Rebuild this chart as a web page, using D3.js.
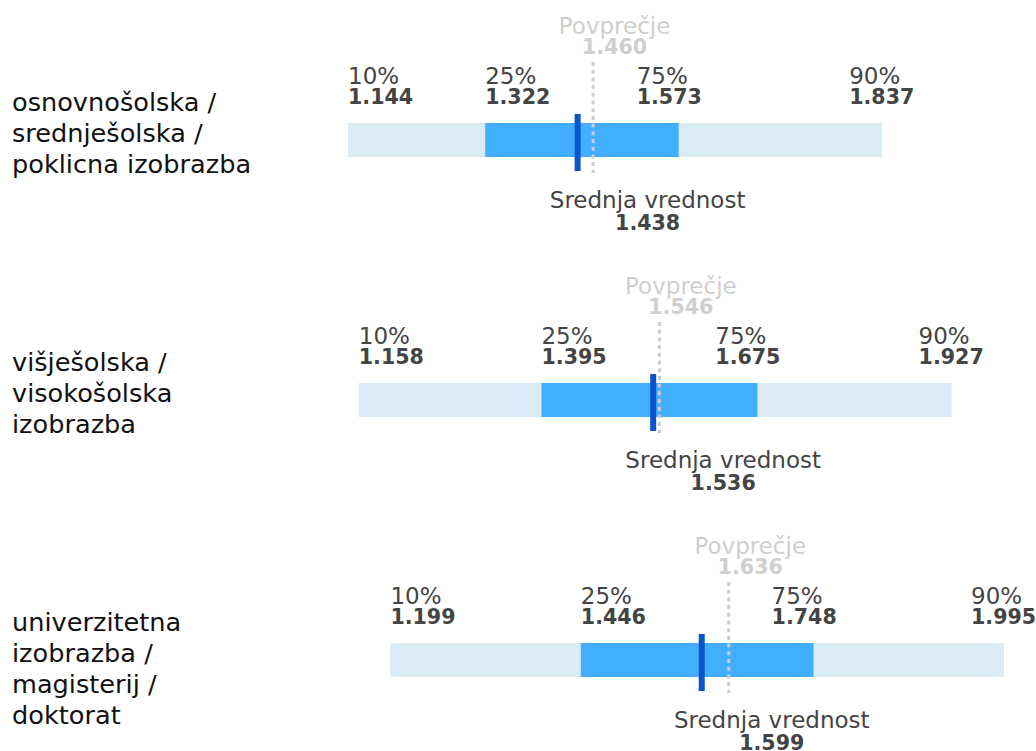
<!DOCTYPE html>
<html>
<head>
<meta charset="utf-8">
<script src="https://cdn.jsdelivr.net/npm/d3@7"></script>
<style>
  html, body { margin: 0; padding: 0; background: #fff; }
  svg { display: block; font-family: "DejaVu Sans", sans-serif; }
</style>
</head>
<body>
<svg id="chart" width="1036" height="751"></svg>
<script>
const categories = [
  ["osnovnošolska /", "srednješolska /", "poklicna izobrazba"],
  ["višješolska /", "visokošolska", "izobrazba"],
  ["univerzitetna", "izobrazba /", "magisterij /", "doktorat"]
];
const p10 = [1.144, 1.158, 1.199];
const p25 = [1.322, 1.395, 1.446];
const p75 = [1.573, 1.675, 1.748];
const p90 = [1.837, 1.927, 1.995];
const median = [1.438, 1.536, 1.599];
const mean = [1.460, 1.546, 1.636];
const pctLabels = ["10%", "25%", "75%", "90%"];
const meanLabel = "Povprečje";
const medianLabel = "Srednja vrednost";

const fmt = d3.format(".3f");
const svg = d3.select("#chart");

const x = d3.scaleLinear()
  .domain([d3.min(p10), d3.max(p90)])
  .range([348, 1004]);

const y = d3.scaleBand()
  .domain(d3.range(categories.length))
  .range([0, 780]);

const barH = 34;
const rowTop = i => 123 + y(i) - y(0);
// horizontal shift of each percentile label relative to its value
const pctShift = [0, 0, -42, -33];

const g = svg.selectAll("g.row")
  .data(categories.map((c, i) => ({i, c})))
  .join("g")
  .attr("class", "row")
  .attr("transform", d => `translate(0,${rowTop(d.i)})`);

// category labels
g.append("text")
  .attr("x", 12)
  .attr("y", -12)
  .attr("font-size", 25.6)
  .attr("fill", "#111")
  .selectAll("tspan")
  .data(d => d.c)
  .join("tspan")
  .attr("x", 12)
  .attr("dy", (d, k) => k === 0 ? 0 : 31)
  .text(d => d);

// outer bar p10-p90
g.append("rect")
  .attr("x", d => x(p10[d.i]))
  .attr("y", 0)
  .attr("width", d => x(p90[d.i]) - x(p10[d.i]))
  .attr("height", barH)
  .attr("fill", "#dbebf6");

// inner bar p25-p75
g.append("rect")
  .attr("x", d => x(p25[d.i]))
  .attr("y", 0)
  .attr("width", d => x(p75[d.i]) - x(p25[d.i]))
  .attr("height", barH)
  .attr("fill", "#41aeff");

// median
g.append("rect")
  .attr("x", d => x(median[d.i]))
  .attr("y", -9)
  .attr("width", 6)
  .attr("height", barH + 23)
  .attr("fill", "#0a55c9");

// mean dotted line
g.append("line")
  .attr("x1", d => x(mean[d.i]) + 1.5)
  .attr("x2", d => x(mean[d.i]) + 1.5)
  .attr("y1", -61)
  .attr("y2", barH + 16)
  .attr("stroke", "#cccccc")
  .attr("stroke-width", 3)
  .attr("stroke-dasharray", "4,3.7");

// percentile labels
g.each(function(d) {
  const vals = [p10[d.i], p25[d.i], p75[d.i], p90[d.i]];
  const sel = d3.select(this);
  vals.forEach((v, k) => {
    sel.append("text")
      .attr("x", x(v) + pctShift[k])
      .attr("y", -39)
      .attr("font-size", 23)
      .attr("fill", "#444")
      .text(pctLabels[k]);
    sel.append("text")
      .attr("x", x(v) + pctShift[k])
      .attr("y", -19)
      .attr("font-size", 20.6)
      .attr("font-weight", "bold")
      .attr("fill", "#444")
      .text(fmt(v));
  });
});

// mean label
g.append("text")
  .attr("x", d => x(mean[d.i]) + 23)
  .attr("y", -89)
  .attr("text-anchor", "middle")
  .attr("font-size", 23)
  .attr("fill", "#cfcfcf")
  .text(meanLabel);
g.append("text")
  .attr("x", d => x(mean[d.i]) + 23)
  .attr("y", -69)
  .attr("text-anchor", "middle")
  .attr("font-size", 20.6)
  .attr("font-weight", "bold")
  .attr("fill", "#cfcfcf")
  .text(d => fmt(mean[d.i]));

// median label
g.append("text")
  .attr("x", d => x(median[d.i]) + 73)
  .attr("y", barH + 51)
  .attr("text-anchor", "middle")
  .attr("font-size", 23)
  .attr("fill", "#444")
  .text(medianLabel);
g.append("text")
  .attr("x", d => x(median[d.i]) + 73)
  .attr("y", barH + 73)
  .attr("text-anchor", "middle")
  .attr("font-size", 20.6)
  .attr("font-weight", "bold")
  .attr("fill", "#444")
  .text(d => fmt(median[d.i]));
</script>
</body>
</html>
